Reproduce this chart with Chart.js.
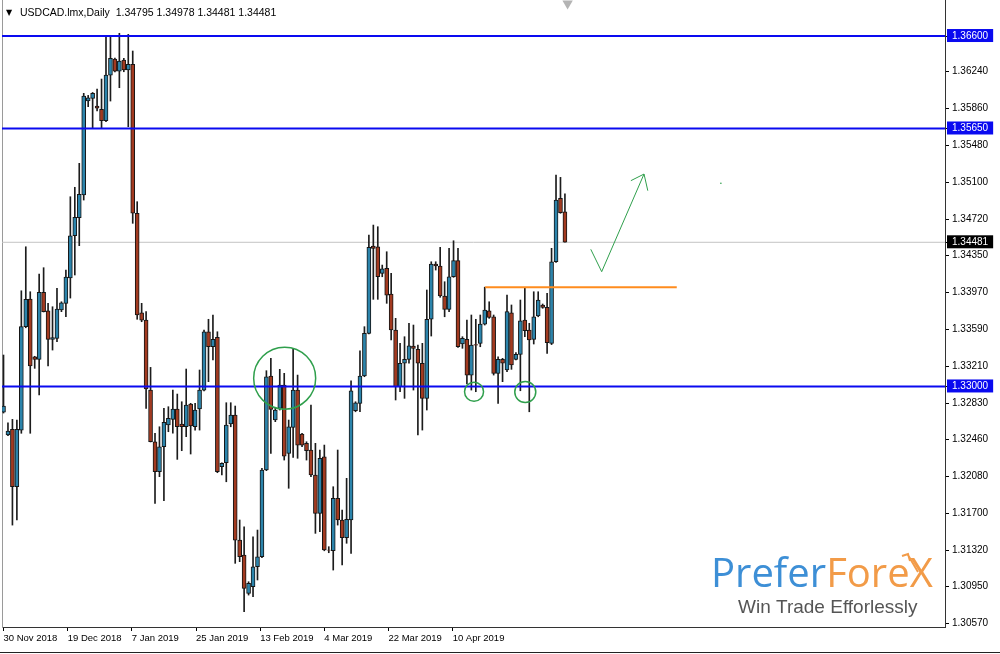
<!DOCTYPE html>
<html>
<head>
<meta charset="utf-8">
<title>USDCAD Daily</title>
<script src="https://cdn.jsdelivr.net/npm/chart.js@4.4.1/dist/chart.umd.min.js"></script>
<style>
  html, body { margin: 0; padding: 0; background: #fff; }
  #wrap { position: relative; width: 1000px; height: 654px; }
</style>
</head>
<body>
<div id="wrap"><canvas id="chart"></canvas></div>
<script>
const symbol = "USDCAD.lmx,Daily";

// daily candles, oldest first (bar index = position in the arrays)
const opens = [
  1.32737, 1.32501, 1.32560, 1.31970, 1.32552, 1.33614, 1.33898, 1.33305, 1.33279, 1.33967,
  1.33778, 1.33484, 1.33494, 1.33785, 1.33854, 1.34114, 1.34548, 1.34733, 1.34967, 1.35932,
  1.35960, 1.35881, 1.35847, 1.35730, 1.36199, 1.36364, 1.36240, 1.36353, 1.36251, 1.36309,
  1.34779, 1.33757, 1.33682, 1.32963, 1.32432, 1.32124, 1.32381, 1.32604, 1.32662, 1.32768,
  1.32614, 1.32586, 1.32820, 1.32586, 1.32768, 1.32963, 1.33562, 1.33408, 1.33505, 1.32175,
  1.32216, 1.32614, 1.32707, 1.31422, 1.31268, 1.30875, 1.30943, 1.31148, 1.31251, 1.32142,
  1.33107, 1.32655, 1.32775, 1.33015, 1.32313, 1.32580, 1.32963, 1.32511, 1.32416, 1.32347,
  1.32090, 1.31697, 1.32278, 1.31320, 1.31312, 1.31851, 1.31628, 1.31446, 1.31628, 1.32751,
  1.32827, 1.33107, 1.33546, 1.34443, 1.34435, 1.34162, 1.34213, 1.33950, 1.33580, 1.32997,
  1.33238, 1.33279, 1.33415, 1.33381, 1.33238, 1.32878, 1.33690, 1.34258, 1.34237, 1.33929,
  1.33792, 1.34127, 1.34292, 1.33436, 1.33484, 1.33117, 1.33431, 1.33443, 1.33641, 1.33778,
  1.33716, 1.33135, 1.33279, 1.33169, 1.33757, 1.33279, 1.33330, 1.33682, 1.33580, 1.33484,
  1.33724, 1.33837, 1.33813, 1.33443, 1.34281, 1.34933, 1.34795
];
const highs = [
  1.33323, 1.32627, 1.32662, 1.32655, 1.33983, 1.34435, 1.33973, 1.33310, 1.34155, 1.34220,
  1.33854, 1.33819, 1.34008, 1.33870, 1.34196, 1.34949, 1.35046, 1.35292, 1.36011, 1.35990,
  1.36020, 1.36055, 1.36158, 1.36593, 1.36593, 1.36374, 1.36628, 1.36371, 1.36617, 1.36446,
  1.34898, 1.33854, 1.33768, 1.33196, 1.32519, 1.32586, 1.32775, 1.32792, 1.32963, 1.32922,
  1.32843, 1.33179, 1.32827, 1.32827, 1.33169, 1.33580, 1.33690, 1.33734, 1.33562, 1.32216,
  1.32833, 1.32833, 1.32799, 1.31628, 1.31559, 1.30994, 1.31456, 1.31525, 1.32159, 1.33162,
  1.33289, 1.32775, 1.33176, 1.33135, 1.32655, 1.33392, 1.33117, 1.32519, 1.32432, 1.32809,
  1.32416, 1.32347, 1.32398, 1.31354, 1.31970, 1.32347, 1.31731, 1.32056, 1.33059, 1.32843,
  1.33367, 1.33614, 1.34556, 1.34658, 1.34641, 1.34247, 1.34384, 1.34162, 1.33700, 1.33443,
  1.33511, 1.33649, 1.33631, 1.33426, 1.33443, 1.33991, 1.34281, 1.34281, 1.34429, 1.34076,
  1.34419, 1.34497, 1.34419, 1.33511, 1.33682, 1.33734, 1.33690, 1.33734, 1.34020, 1.33870,
  1.33734, 1.33305, 1.33289, 1.33939, 1.33837, 1.33347, 1.33888, 1.34008, 1.33649, 1.33973,
  1.33973, 1.33847, 1.33957, 1.34419, 1.35172, 1.35148, 1.34978
];
const lows = [
  1.32727, 1.32494, 1.31576, 1.31628, 1.32519, 1.33603, 1.32519, 1.33186, 1.32912, 1.33765,
  1.33210, 1.33374, 1.33460, 1.33768, 1.33716, 1.33908, 1.34145, 1.34446, 1.34915, 1.35874,
  1.35652, 1.35830, 1.35652, 1.35720, 1.35932, 1.36230, 1.36069, 1.36233, 1.35668, 1.34676,
  1.33690, 1.33665, 1.32775, 1.32430, 1.31799, 1.32073, 1.31826, 1.32535, 1.32519, 1.32251,
  1.32340, 1.32484, 1.32306, 1.32552, 1.32552, 1.32955, 1.33049, 1.33272, 1.32114, 1.32090,
  1.32021, 1.32586, 1.31183, 1.31200, 1.30686, 1.30857, 1.30840, 1.31012, 1.31240, 1.32135,
  1.32313, 1.32638, 1.32758, 1.32244, 1.31954, 1.32272, 1.32262, 1.32381, 1.32244, 1.32073,
  1.31491, 1.31508, 1.31312, 1.31292, 1.31114, 1.31576, 1.31166, 1.31389, 1.31286, 1.32740,
  1.32740, 1.33100, 1.33540, 1.33895, 1.33895, 1.34127, 1.33854, 1.33477, 1.32861, 1.32946,
  1.32878, 1.33238, 1.32963, 1.32501, 1.32552, 1.32758, 1.33518, 1.34196, 1.33916, 1.33716,
  1.33768, 1.34121, 1.33402, 1.33392, 1.33025, 1.32963, 1.32946, 1.33408, 1.33631, 1.33700,
  1.33117, 1.32827, 1.33049, 1.33151, 1.33176, 1.33272, 1.32956, 1.33511, 1.32740, 1.33436,
  1.33716, 1.33803, 1.33340, 1.33430, 1.34275, 1.34779, 1.34481
];
const closes = [
  1.32799, 1.32542, 1.31970, 1.32560, 1.33614, 1.33895, 1.33210, 1.33279, 1.33967, 1.33768,
  1.33484, 1.33501, 1.33795, 1.33860, 1.34124, 1.34548, 1.34737, 1.34974, 1.35984, 1.35966,
  1.36011, 1.35860, 1.35730, 1.36199, 1.36371, 1.36240, 1.36343, 1.36251, 1.36309, 1.34779,
  1.33734, 1.33682, 1.32974, 1.32432, 1.32124, 1.32381, 1.32632, 1.32673, 1.32768, 1.32586,
  1.32586, 1.32809, 1.32594, 1.32758, 1.32963, 1.33562, 1.33408, 1.33484, 1.32124, 1.32210,
  1.32604, 1.32707, 1.31422, 1.31251, 1.30926, 1.30978, 1.31148, 1.31251, 1.32142, 1.33100,
  1.32765, 1.32758, 1.33015, 1.32285, 1.32586, 1.32963, 1.32398, 1.32398, 1.32340, 1.32090,
  1.31697, 1.32262, 1.31320, 1.31317, 1.31851, 1.31628, 1.31446, 1.31635, 1.32956, 1.32833,
  1.33107, 1.33546, 1.34429, 1.34419, 1.34127, 1.34209, 1.33939, 1.33580, 1.32997, 1.33238,
  1.33279, 1.33418, 1.33392, 1.33238, 1.32878, 1.33690, 1.34258, 1.34237, 1.33929, 1.33792,
  1.34127, 1.34292, 1.33408, 1.33494, 1.33117, 1.33426, 1.33425, 1.33641, 1.33785, 1.33710,
  1.33135, 1.33279, 1.33238, 1.33768, 1.33220, 1.33330, 1.33675, 1.33573, 1.33477, 1.33716,
  1.33888, 1.33813, 1.33449, 1.34281, 1.34915, 1.34785, 1.34481
];

// price axis
const priceTicks = [1.30570, 1.30950, 1.31320, 1.31700, 1.32080, 1.32460, 1.32830, 1.33210,
  1.33590, 1.33970, 1.34350, 1.34720, 1.35100, 1.35480, 1.35860, 1.36240];
const priceMin = 1.30529, priceMax = 1.36970;

// time axis (bar positions of the date marks)
const dateTicks = ["30 Nov 2018", "19 Dec 2018", "7 Jan 2019", "25 Jan 2019",
  "13 Feb 2019", "4 Mar 2019", "22 Mar 2019", "10 Apr 2019"];
const dateTickBars = [0, 14.4, 28.8, 43.2, 57.6, 72, 86.4, 100.8];
const barMin = -0.34, barMax = 211.3;

// drawn objects
const levels = [1.36600, 1.35650, 1.33000];
const lastPrice = closes[closes.length - 1];
const orangeLevel = 1.34020, orangeFrom = 108.1, orangeTo = 151.1;
const circleBars = [63.1, 105.6, 117.1];
const circlePrices = [1.33085, 1.32946, 1.32943];
const circleSizes = [31, 9.5, 10.5];
const arrowBars = [131.8, 134.25, 143.75];
const arrowPrices = [1.34409, 1.34179, 1.35182];
const headBars = [140.8, 143.75, 144.6];
const headPrices = [1.35114, 1.35182, 1.35011];

const BULL = "#2c84ab", BEAR = "#a23a20", GREEN = "#2f9f4c";

const bodies = opens.map((o, i) => ({ x: i, y: [o, closes[i]] }));
const wicks = lows.map((l, i) => ({ x: i, y: [l, highs[i]] }));
const bodyColors = opens.map((o, i) => closes[i] >= o ? BULL : BEAR);

function hline(price, from, to, color, width, order) {
    return {
        type: "line",
        data: [{ x: from, y: price }, { x: to, y: price }],
        borderColor: color,
        borderWidth: width,
        pointRadius: 0,
        order: order,
    };
}

const isSpecial = v => levels.includes(v) || v === lastPrice;

// axes must not reserve room for labels overhanging the plot
function noOverhang(scale) {
    scale.paddingTop = 0;
    scale.paddingBottom = 0;
    scale.paddingLeft = 0;
    scale.paddingRight = 0;
}

// header line and the logo
const overlay = {
    id: "overlay",
    afterDraw(chart) {
        const ctx = chart.ctx;
        const n = closes.length - 1;
        ctx.save();
        ctx.fillStyle = "#000";
        ctx.font = "8px 'DejaVu Sans'";
        ctx.fillText("\u25BC", 6, 15);
        ctx.font = "10.5px 'Liberation Sans'";
        ctx.fillText(`${symbol}  ${opens[n].toFixed(5)} ${highs[n].toFixed(5)} ${lows[n].toFixed(5)} ${closes[n].toFixed(5)}`, 20, 16);

        ctx.font = "40px 'Open Sans'";
        ctx.fillStyle = "#3d8fd6";
        ctx.fillText("Prefer", 711, 587);
        let w = ctx.measureText("Prefer").width;
        ctx.fillStyle = "#f29b48";
        ctx.fillText("Fore", 711 + w, 587);
        w += ctx.measureText("Fore").width;
        ctx.fillText("X", 711 + w, 587);
        ctx.strokeStyle = "#f29b48";
        ctx.lineWidth = 2;
        ctx.beginPath();
        ctx.moveTo(918, 572);
        ctx.lineTo(908, 555);
        ctx.moveTo(902, 556);
        ctx.lineTo(908, 554);
        ctx.lineTo(910, 561);
        ctx.stroke();
        ctx.font = "19px 'Liberation Sans'";
        ctx.fillStyle = "#555";
        ctx.fillText("Win Trade Efforlessly", 738, 613);

        ctx.strokeStyle = "#222";
        ctx.lineWidth = 1;
        ctx.beginPath();
        ctx.moveTo(0, 652.5);
        ctx.lineTo(1000, 652.5);
        ctx.stroke();
        ctx.restore();
    }
};

new Chart(document.getElementById("chart"), {
    type: "bar",
    data: {
        datasets: [
            {
                label: "wicks",
                data: wicks,
                backgroundColor: "#1c1c1c",
                barThickness: 1,
                grouped: false,
                order: 4,
            },
            {
                label: "bodies",
                data: bodies,
                backgroundColor: bodyColors,
                borderColor: "#151515",
                borderWidth: 1,
                borderSkipped: false,
                barThickness: 4,
                grouped: false,
                order: 3,
            },
            hline(lastPrice, barMin, barMax, "#c4c4c4", 1, 6),
            ...levels.map(p => hline(p, barMin, barMax, "#0a0af0", 2, 1)),
            hline(orangeLevel, orangeFrom, orangeTo, "#ff8c1e", 2, 1),
            {
                type: "line",
                data: arrowBars.map((b, i) => ({ x: b, y: arrowPrices[i] })),
                borderColor: GREEN,
                borderWidth: 1,
                pointRadius: 0,
                order: 0,
            },
            {
                type: "line",
                data: headBars.map((b, i) => ({ x: b, y: headPrices[i] })),
                borderColor: GREEN,
                borderWidth: 1,
                pointRadius: 0,
                order: 0,
            },
            {
                type: "line",
                data: circleBars.map((b, i) => ({ x: b, y: circlePrices[i] })),
                showLine: false,
                pointStyle: "circle",
                pointRadius: circleSizes,
                pointBackgroundColor: "rgba(0,0,0,0)",
                pointBorderColor: GREEN,
                pointBorderWidth: 1.5,
                order: 0,
            },
            {
                type: "line",
                data: [{ x: 161, y: 1.35087 }],
                showLine: false,
                pointRadius: 0.8,
                pointBackgroundColor: GREEN,
                pointBorderWidth: 0,
                order: 0,
            },
            {
                type: "line",
                data: [{ x: 126.6, y: 1.36935 }],
                showLine: false,
                pointStyle: "triangle",
                rotation: 180,
                pointRadius: 6,
                pointBackgroundColor: "#b4b4b4",
                pointBorderWidth: 0,
                clip: false,
                order: 0,
            },
        ],
    },
    options: {
        responsive: true,
        maintainAspectRatio: false,
        animation: false,
        events: [],
        layout: { padding: 0, autoPadding: false },
        plugins: {
            legend: { display: false },
            tooltip: { enabled: false },
        },
        scales: {
            x: {
                type: "linear",
                position: "bottom",
                min: barMin,
                max: barMax,
                offset: false,
                afterBuildTicks: scale => {
                    scale.ticks = dateTickBars.map(v => ({ value: v }));
                },
                afterFit: scale => { scale.height = 27; noOverhang(scale); },
                ticks: {
                    autoSkip: false,
                    maxRotation: 0,
                    minRotation: 0,
                    align: "start",
                    padding: 2,
                    color: "#000",
                    font: { family: "'Liberation Sans'", size: 9.5 },
                    callback: (v, i) => dateTicks[i],
                },
                grid: { drawOnChartArea: false, offset: false, tickLength: 4, color: "#000" },
                border: { color: "#333" },
            },
            y: {
                type: "linear",
                position: "right",
                min: priceMin,
                max: priceMax,
                afterBuildTicks: scale => {
                    scale.ticks = [...priceTicks, ...levels, lastPrice]
                        .sort((a, b) => a - b)
                        .map(v => ({ value: v }));
                },
                afterFit: scale => { scale.width = 55; noOverhang(scale); },
                ticks: {
                    autoSkip: false,
                    padding: 3,
                    font: { family: "'Liberation Sans'", size: 10 },
                    color: ctx => isSpecial(ctx.tick.value) ? "#fff" : "#000",
                    showLabelBackdrop: ctx => isSpecial(ctx.tick.value),
                    backdropColor: ctx => ctx.tick.value === lastPrice ? "#000" : "#0a0af0",
                    backdropPadding: { left: 5, right: 5, top: 1, bottom: 0 },
                    callback: v => v.toFixed(5),
                },
                grid: { drawOnChartArea: false, tickLength: 4, color: "#000" },
                border: { color: "#333" },
            },
            yl: {
                type: "linear",
                position: "left",
                afterFit: scale => { scale.width = 2; noOverhang(scale); },
                ticks: { display: false },
                grid: { display: false },
                border: { color: "#9a9a9a" },
            },
        },
    },
    plugins: [overlay],
});
</script>
</body>
</html>
